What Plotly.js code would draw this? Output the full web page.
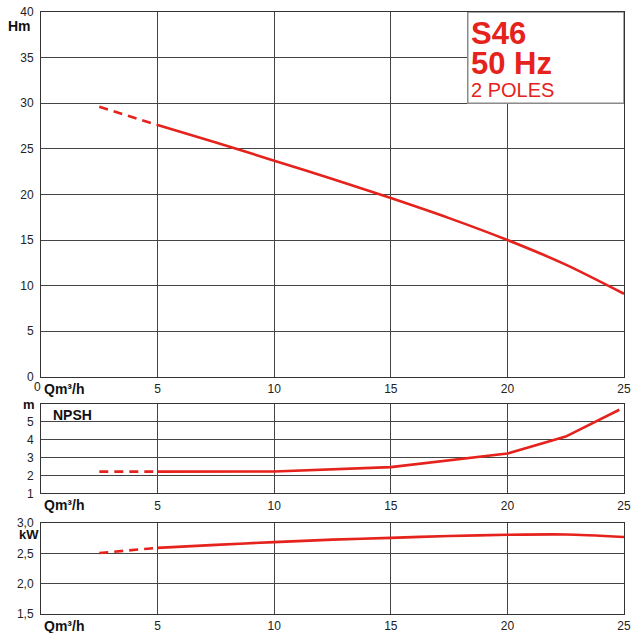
<!DOCTYPE html>
<html>
<head>
<meta charset="utf-8">
<script src="https://cdn.plot.ly/plotly-3.0.1.min.js"></script>
<style>
  html, body { margin: 0; padding: 0; background: #fff; }
  #chart { width: 633px; height: 633px; }
</style>
</head>
<body>
<div id="chart"></div>
<script>
// Pump S46, 50 Hz, 2 poles: head, NPSH and power versus flow
const flowDash = [2.5, 5];
const headDash = [29.6, 27.6];
const flow = [5, 7.5, 10, 12.5, 15, 17.5, 20, 22.5, 25];
const head = [27.6, 25.7, 23.7, 21.7, 19.6, 17.4, 15.0, 12.3, 9.1];

const npshFlowDash = [2.5, 5];
const npshDash = [2.22, 2.22];
const npshFlow = [5, 10, 15, 20, 22.5, 24.8];
const npsh = [2.22, 2.23, 2.47, 3.23, 4.18, 5.68];

const powerFlowDash = [2.5, 5];
const powerDash = [2.505, 2.59];
const powerFlow = [5, 7.5, 10, 12.5, 15, 17.5, 20, 22.5, 25];
const power = [2.59, 2.64, 2.685, 2.725, 2.755, 2.785, 2.805, 2.81, 2.77];

const flowTicks = [5, 10, 15, 20, 25];
const headTicks = [0, 5, 10, 15, 20, 25, 30, 35, 40];
const npshTicks = [1, 2, 3, 4, 5];
const powerTicks = [1.5, 2.0, 2.5, 3.0];
const powerTickText = ['1,5', '2,0', '2,5', '3,0'];

const RED = '#e5221c';
const GRID = '#444444';
const FONT = 'Liberation Sans, Arial, sans-serif';

function line(x, y, xa, ya, dash, shape) {
  return {
    x: x, y: y, xaxis: xa, yaxis: ya, type: 'scatter', mode: 'lines',
    hoverinfo: 'skip', showlegend: false,
    line: { color: RED, width: 2.6, dash: dash || 'solid', shape: shape || 'linear', smoothing: 0.8 }
  };
}

const traces = [
  line(flowDash, headDash, 'x', 'y', '9px,6px'),
  line(flow, head, 'x', 'y', 'solid', 'spline'),
  line(npshFlowDash, npshDash, 'x2', 'y2', '9px,6px'),
  line(npshFlow, npsh, 'x2', 'y2', 'solid', 'linear'),
  line(powerFlowDash, powerDash, 'x3', 'y3', '9px,6px'),
  line(powerFlow, power, 'x3', 'y3', 'solid', 'spline')
];

function xAxis(anchor) {
  return {
    anchor: anchor, range: [0, 25], tickvals: flowTicks, ticktext: flowTicks.map(String),
    showgrid: true, gridcolor: GRID, gridwidth: 1, zeroline: false,
    showline: true, linecolor: '#333', linewidth: 1, mirror: true,
    ticks: 'outside', ticklen: 1, tickcolor: 'rgba(0,0,0,0)',
    tickfont: { family: FONT, size: 12, color: '#222' }
  };
}
function yAxis(anchor, domain, range, vals, text) {
  return {
    anchor: anchor, domain: domain, range: range, tickvals: vals, ticktext: text || vals.map(String),
    showgrid: true, gridcolor: GRID, gridwidth: 1, zeroline: false,
    showline: true, linecolor: '#333', linewidth: 1, mirror: true,
    ticks: 'outside', ticklen: 4, tickcolor: 'rgba(0,0,0,0)',
    tickfont: { family: FONT, size: 12, color: '#222' }
  };
}

const boldFont = { family: FONT, size: 14, color: '#111', weight: 'bold' };
function qLabel(ya) {
  return { text: '<b>Qm³/h</b>', xref: 'paper', x: 0, xanchor: 'left', xshift: 1,
           yref: ya, y: ya === 'y' ? 0 : (ya === 'y2' ? 1 : 1.5), yanchor: 'top', yshift: -2,
           showarrow: false, font: boldFont };
}

const layout = {
  width: 633, height: 633,
  margin: { l: 41, r: 9, t: 12, b: 19 },
  paper_bgcolor: '#fff', plot_bgcolor: '#fff',
  font: { family: FONT },
  xaxis: xAxis('y'),
  yaxis: yAxis('x', [0.394, 1], [0, 40], headTicks),
  xaxis2: xAxis('y2'),
  yaxis2: yAxis('x2', [0.2003, 0.3488], [1, 6], npshTicks),
  xaxis3: xAxis('y3'),
  yaxis3: yAxis('x3', [0, 0.1512], [1.5, 3.0], powerTicks, powerTickText),
  shapes: [
    { type: 'rect', xref: 'x', yref: 'y', x0: 18.3, x1: 25, y0: 30, y1: 40,
      fillcolor: '#fff', line: { color: '#8a8a8a', width: 1.5 }, layer: 'above' }
  ],
  annotations: [
    { text: '<b>Hm</b>', xref: 'paper', x: 0, xanchor: 'right', xshift: -8,
      yref: 'y', y: 40, yanchor: 'middle', yshift: -14, showarrow: false, font: boldFont },
    { text: '<b>m</b>', xref: 'paper', x: 0, xanchor: 'right', xshift: -4,
      yref: 'y2', y: 6, yanchor: 'middle', showarrow: false, font: { family: FONT, size: 13, color: '#111' } },
    { text: '<b>kW</b>', xref: 'paper', x: 0, xanchor: 'right', xshift: 0,
      yref: 'y3', y: 3.0, yanchor: 'middle', yshift: -12, showarrow: false, font: { family: FONT, size: 13, color: '#111' } },
    { text: '0', xref: 'paper', x: 0, xanchor: 'right', xshift: 2,
      yref: 'y', y: 0, yanchor: 'top', yshift: -1, showarrow: false, font: { family: FONT, size: 12, color: '#222' } },
    qLabel('y'), qLabel('y2'), qLabel('y3'),
    { text: '<b>NPSH</b>', xref: 'paper', x: 0, xanchor: 'left', xshift: 10,
      yref: 'y2', y: 5.4, yanchor: 'middle', showarrow: false, font: boldFont },
    { text: '<b>S46</b>', xref: 'x', x: 18.3, xanchor: 'left', xshift: 1,
      yref: 'y', y: 37.6, yanchor: 'middle', showarrow: false,
      font: { family: FONT, size: 31, color: RED } },
    { text: '<b>50 Hz</b>', xref: 'x', x: 18.3, xanchor: 'left', xshift: 1,
      yref: 'y', y: 34.35, yanchor: 'middle', showarrow: false,
      font: { family: FONT, size: 31, color: RED } },
    { text: '2 POLES', xref: 'x', x: 18.3, xanchor: 'left', xshift: 1,
      yref: 'y', y: 31.5, yanchor: 'middle', showarrow: false,
      font: { family: FONT, size: 20, color: RED } }
  ]
};

Plotly.newPlot('chart', traces, layout, { displayModeBar: false, staticPlot: true });
</script>
</body>
</html>
